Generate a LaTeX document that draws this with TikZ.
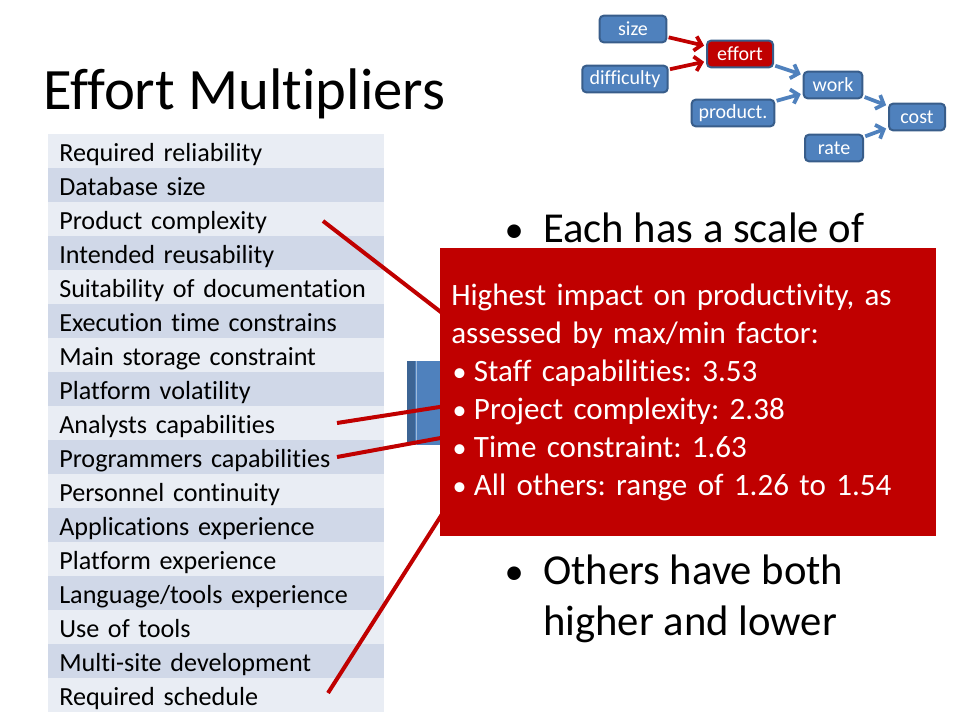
\documentclass[tikz,border=0pt]{standalone}
\usepackage{fontspec}
\setmainfont{Carlito}[Ligatures=NoCommon]
\usepackage{tikz}
\usetikzlibrary{arrows.meta}
\definecolor{RowLight}{HTML}{E9EDF4}
\definecolor{RowDark}{HTML}{D0D8E8}
\definecolor{Accent}{HTML}{C00000}
\definecolor{Steel}{HTML}{4F81BD}
\definecolor{SteelEdge}{HTML}{385D8A}
\definecolor{SteelDark}{HTML}{3C6494}
\newcommand{\dotmark}[1]{\makebox[#1][l]{\hspace{1pt}\scalebox{0.9}{\textbullet}}}
\frenchspacing

\begin{document}
\begin{tikzpicture}[x=0.75pt, y=-0.75pt,
	row/.style={anchor=north west, minimum height=25.5pt, inner xsep=8.25pt, inner ysep=0pt, text width=235.5pt, align=left, text height=18pt, text depth=3pt, font=\fontsize{19.6}{24}\selectfont},
	link/.style={Accent, line width=3pt},
	factor/.style={fill=Steel, draw=SteelEdge, line width=1.5pt, rounded corners=3pt, text=white, minimum height=20pt, inner xsep=2pt, inner ysep=0pt, font=\fontsize{15}{18}\selectfont},
	flow/.style={line width=2.8pt, -{Straight Barb[length=5pt, width=11pt]}, shorten <=1pt, shorten >=1.5pt},
	point/.style={anchor=base west, inner sep=0pt, font=\fontsize{32}{38}\selectfont, align=left}]
	\useasboundingbox (0,0) rectangle (960,720);
	\fill[white] (0,0) rectangle (960,720);

	\node[anchor=base west, inner sep=0pt, font=\fontsize{44}{52}\selectfont] (title) at (43,110) {Effort Multipliers};

	\foreach \txt [count=\i] in {Required reliability, Database size, Product complexity, Intended reusability, Suitability of documentation, Execution time constrains, Main storage constraint, Platform volatility, Analysts capabilities, Programmers capabilities, Personnel continuity, Applications experience, Platform experience, Language/tools experience, Use of tools, Multi-site development, Required schedule}{
		\ifodd\i \def\shade{RowLight}\else\def\shade{RowDark}\fi
		\node[row, fill=\shade] (r\i) at (48,{134+34*(\i-1)}) {\txt};
	}

	\node[point] (scale) at (543,243) {\llap{\dotmark{30pt}}Each has a scale of};
	\node[point] (others) at (543,635) {\llap{\dotmark{30pt}}Others have both\\higher and lower};

	\fill[Steel] (407,361) rectangle (440,445);
	\fill[SteelDark] (407,361) rectangle (415,445);
	\draw[white!45!Steel, line width=0.75pt] (416,361) -- (416,445);

	\coordinate (pc) at (323,221);
	\coordinate (ac) at (337,423);
	\coordinate (pg) at (337,457);
	\coordinate (rs) at (328,693);
	\coordinate (pcend) at (446,316);
	\coordinate (acend) at (446,406);
	\coordinate (pgend) at (446,437);
	\coordinate (rsend) at (446,508);
	\draw[link] (pc) -- (pcend);
	\draw[link] (ac) -- (acend);
	\draw[link] (pg) -- (pgend);
	\draw[link] (rs) -- (rsend);

	\node[fill=Accent, text=white, anchor=north west, minimum width=372pt, minimum height=216pt, inner xsep=8.25pt, text width=355.5pt, align=left, font=\fontsize{23.3}{28.5}\selectfont] (impact) at (440,248) {Highest impact on productivity, as\\assessed by max/min factor:\\
		\dotmark{17pt}Staff capabilities: 3.53\\
		\dotmark{17pt}Project complexity: 2.38\\
		\dotmark{17pt}Time constraint: 1.63\\
		\dotmark{17pt}All others: range of 1.26 to 1.54};

	\node[factor, minimum width=50pt] (size) at (633,29) {size};
	\node[factor, fill=Accent, minimum width=49.5pt] (effort) at (740,54) {effort};
	\node[factor, minimum width=64pt] (difficulty) at (625,79) {difficulty};
	\node[factor, minimum width=44pt] (work) at (833,85) {work};
	\node[factor, minimum width=62pt] (product) at (733,113) {product.};
	\node[factor, minimum width=42pt] (cost) at (917,117) {cost};
	\node[factor, minimum width=43.5pt] (rate) at (834,148) {rate};

	\draw[flow, Accent] (size) -- (effort);
	\draw[flow, Accent] (difficulty) -- (effort);
	\draw[flow, Steel] (effort) -- (work);
	\draw[flow, Steel] (product) -- (work);
	\draw[flow, Steel] (work) -- (cost);
	\draw[flow, Steel] (rate) -- (cost);
\end{tikzpicture}
\end{document}
